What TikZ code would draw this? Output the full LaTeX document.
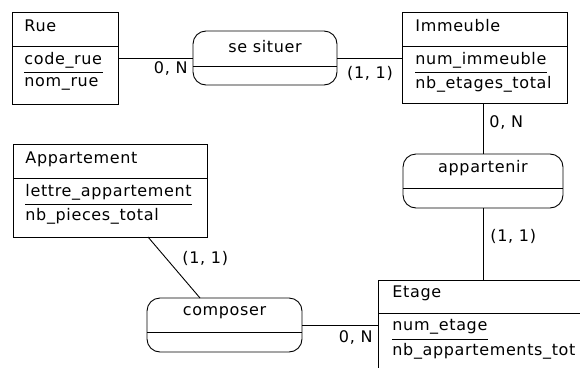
\documentclass[tikz,border=0pt]{standalone}
\usepackage{fontspec}
\setmainfont{DejaVu Sans}[LetterSpace=4]
\begin{document}
\begin{tikzpicture}[x=1pt,y=-1pt, line width=0.9pt,
  ent/.style={draw, rectangle, inner sep=0pt, outer sep=0pt},
  rel/.style={draw, rectangle, rounded corners=13pt, inner sep=0pt, outer sep=0pt},
  txt/.style={inner sep=0pt, anchor=west, font=\fontsize{16}{19}\selectfont},
  lbl/.style={inner sep=0pt, font=\fontsize{16}{19}\selectfont},
  card/.style={inner sep=0pt, font=\fontsize{16}{19}\selectfont}]
\useasboundingbox (0,0) rectangle (580,367);
\clip (0,0) rectangle (580,367);
% Entities
\node[ent, minimum width=106pt, minimum height=92pt] (rue) at (65,58) {};
\draw (rue.west |- 0,46) -- (rue.east |- 0,46);
\node[txt] (rueT) at (24,26) {Rue};
\node[txt] (rueA) at (24,60) {code\_rue};
\node[txt] (rueB) at (24,84) {nom\_rue};
\draw (rueA.west |- 0,72) -- (rueA.east |- 0,72);

\node[ent, minimum width=165pt, minimum height=91pt] (imm) at (484.5,57.5) {};
\draw (imm.west |- 0,46) -- (imm.east |- 0,46);
\node[txt] (immT) at (415,26) {Immeuble};
\node[txt] (immA) at (415,60) {num\_immeuble};
\node[txt] (immB) at (415,84) {nb\_etages\_total};
\draw (immA.west |- 0,72) -- (immA.east |- 0,72);

\node[ent, minimum width=194pt, minimum height=93pt] (app) at (110,190.5) {};
\draw (app.west |- 0,178) -- (app.east |- 0,178);
\node[txt] (appT) at (25,159) {Appartement};
\node[txt] (appA) at (25,192) {lettre\_appartement};
\node[txt] (appB) at (25,216) {nb\_pieces\_total};
\draw (appA.west |- 0,204.5) -- (appA.east |- 0,204.5);

\node[ent, minimum width=300pt, minimum height=200pt] (etage) at (528,380) {};
\draw (etage.west |- 0,313) -- (etage.east |- 0,313);
\node[txt] (etT) at (392,293) {Etage};
\node[txt] (etA) at (392,327) {num\_etage};
\node[txt] (etB) at (392,351) {nb\_appartements\_tot};
\draw (etA.west |- 0,339.5) -- (etA.east |- 0,339.5);

% Relations
\node[rel, minimum width=144pt, minimum height=54pt] (situer) at (265,58) {};
\draw (situer.west |- 0,66) -- (situer.east |- 0,66);
\node[lbl] (situerT) at (265,47) {se situer};

\node[rel, minimum width=160pt, minimum height=54pt] (appart) at (483,181) {};
\draw (appart.west |- 0,188) -- (appart.east |- 0,188);
\node[lbl] (appartT) at (483,168) {appartenir};

\node[rel, minimum width=155pt, minimum height=54pt] (comp) at (224.5,325) {};
\draw (comp.west |- 0,332) -- (comp.east |- 0,332);
\node[lbl] (compT) at (224.5,313) {composer};

% Connectors
\draw (rue.east |- situer.west) -- (situer.west);
\draw (situer.east) -- (situer.east -| imm.west);
\draw (appart.north) -- (appart.north |- imm.south);
\draw (appart.south) -- (appart.south |- etage.north);
\draw ([xshift=38pt]app.south) -- ([xshift=-24.5pt]comp.north);
\draw (comp.east) -- (comp.east -| etage.west);

% Cardinalities
\node[card, anchor=east] (c1) at (188,68) {0, N};
\node[card] (c2) at (370,73) {(1, 1)};
\node[card, anchor=west] (c3) at (489,122) {0, N};
\node[card, anchor=west] (c4) at (490,236) {(1, 1)};
\node[card, anchor=west] (c5) at (182,258) {(1, 1)};
\node[card, anchor=east] (c6) at (373,337) {0, N};
\end{tikzpicture}
\end{document}
